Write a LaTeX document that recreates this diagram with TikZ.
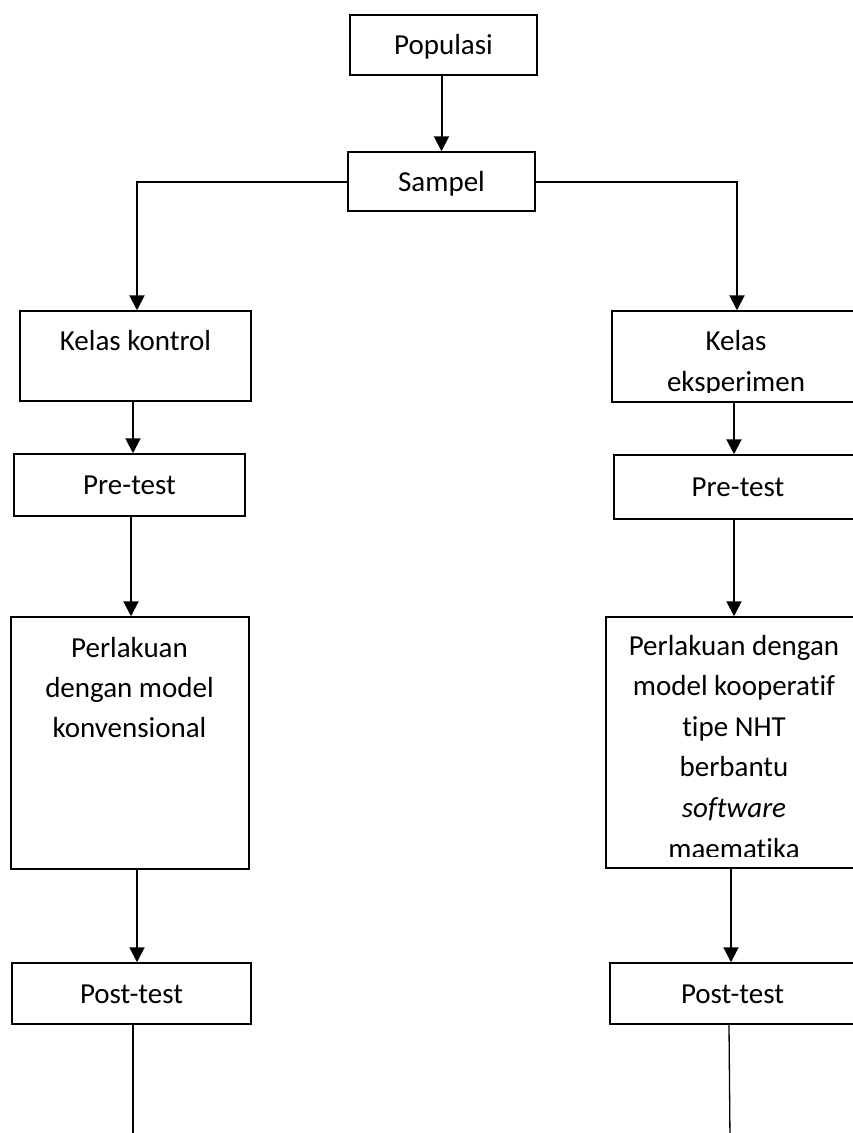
\documentclass[tikz,border=0pt]{standalone}
\usepackage{fontspec}
\setmainfont{Carlito}[Ligatures=NoCommon]
\usetikzlibrary{arrows.meta}

\begin{document}
\begin{tikzpicture}[
  x=1pt, y=-1pt,
  box/.style={draw, line width=1.5pt, inner sep=0pt},
  lbl/.style={inner sep=0pt, font=\fontsize{29}{40}\selectfont},
  oneline/.style={text height=20pt, text depth=1pt},
  arr/.style={line width=2pt, -{Triangle[width=15pt,length=15pt]}},
  tail/.style={line width=1.3pt},
]

\useasboundingbox (0,0) rectangle (853,1133);
\clip (0,0) rectangle (853,1133);

% top
\node[box, lbl, oneline, minimum width=187pt, minimum height=60pt] (populasi) at (443.5,45) {Populasi};
\node[box, lbl, oneline, minimum width=187pt, minimum height=59pt] (sampel) at (441.5,181.5) {Sampel};

% left column
\node[box, minimum width=231pt, minimum height=90pt] (kontrol) at (135.5,356) {};
\node[lbl, anchor=base] (kontrol-t) at (135.5,350) {Kelas kontrol};
\node[box, lbl, oneline, minimum width=231pt, minimum height=62pt] (preA) at (129.5,485) {Pre-test};
\node[box, minimum width=238pt, minimum height=252pt] (perlA) at (130,743) {};
\foreach[count=\k] \txt in {Perlakuan, dengan model, konvensional}
  \node[lbl, anchor=base] (perlA-\k) at (129.5,617+40*\k) {\txt};
\node[box, lbl, oneline, minimum width=239pt, minimum height=61pt] (postA) at (131.5,993.5) {Post-test};
\coordinate (endA) at (133,1140);

% right column
\node[box, minimum width=250pt, minimum height=91pt] (eksp) at (737,356.5) {};
\begin{scope}
  \clip (eksp.north west) rectangle ([yshift=10pt]eksp.south east);
  \foreach[count=\k] \txt in {Kelas, eksperimen}
    \node[lbl, anchor=base] (eksp-\k) at (736,309+41*\k) {\txt};
\end{scope}
\node[box, lbl, oneline, minimum width=248pt, minimum height=64pt] (preB) at (738,487) {Pre-test};
\node[box, minimum width=256pt, minimum height=251pt] (perlB) at (734,742.5) {};
\begin{scope}
  \clip (perlB.north west) rectangle ([yshift=12pt]perlB.south east);
  \foreach[count=\k] \txt in {Perlakuan dengan, model kooperatif, tipe NHT, berbantu, \textit{software}, maematika}
    \node[lbl, anchor=base] (perlB-\k) at (734,614.4+40.6*\k) {\txt};
\end{scope}
\node[box, lbl, oneline, minimum width=245pt, minimum height=61pt] (postB) at (732.5,993.5) {Post-test};
\coordinate (endB) at (730,1140);

% connectors
\draw[arr] ([xshift=-2pt]populasi.south) -- (sampel.north);
\draw[arr] (sampel.west) -| ([xshift=1.5pt]kontrol.north);
\draw[arr] (sampel.east) -| (eksp.north);

\draw[arr] ([xshift=-2.5pt]kontrol.south) -- ([xshift=3.5pt]preA.north);
\draw[arr] ([xshift=1.5pt]preA.south) -- ([xshift=1pt]perlA.north);
\draw[arr] ([xshift=7pt]perlA.south) -- ([xshift=5.5pt]postA.north);
\draw[tail] ([xshift=1.5pt]postA.south) -- (endA);

\draw[arr] ([xshift=-3pt]eksp.south) -- ([xshift=-4pt]preB.north);
\draw[arr] ([xshift=-4pt]preB.south) -- (perlB.north);
\draw[arr] ([xshift=-3pt]perlB.south) -- ([xshift=-1.5pt]postB.north);
\draw[tail] ([xshift=-3.5pt]postB.south) -- (endB);
\end{tikzpicture}
\end{document}
